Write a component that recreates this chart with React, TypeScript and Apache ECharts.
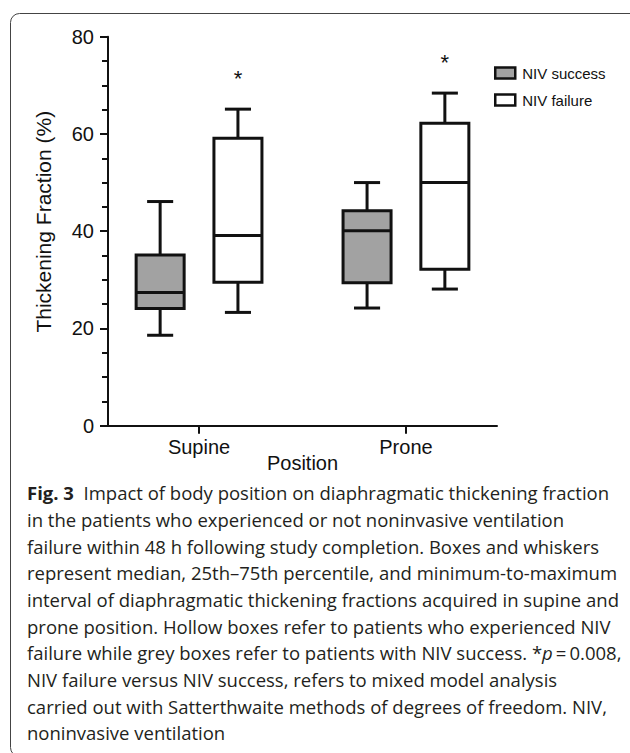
import React, { useEffect, useRef } from "react";
import * as echarts from "echarts";

// ---------- data ----------
const categories = ["Supine", "Prone"];
const seriesNames = ["NIV success", "NIV failure"];
// [min, Q1, median, Q3, max]
const successStats = [
  [18.6, 24.1, 27.4, 35.1, 46.1],
  [24.2, 29.4, 40.1, 44.2, 50.0],
];
const failureStats = [
  [23.3, 29.5, 39.1, 59.1, 65.1],
  [28.1, 32.2, 50.0, 62.2, 68.4],
];
const failureMarks = ["*", "*"];
const yTicks = [0, 20, 40, 60, 80];

const captionLines = [
  "{b|Fig. 3}  Impact of body position on diaphragmatic thickening fraction",
  "in the patients who experienced or not noninvasive ventilation",
  "failure within 48 h following study completion. Boxes and whiskers",
  "represent median, 25th\u201375th percentile, and minimum-to-maximum",
  "interval of diaphragmatic thickening fractions acquired in supine and",
  "prone position. Hollow boxes refer to patients who experienced NIV",
  "failure while grey boxes refer to patients with NIV success. *{i|p}\u2009=\u20090.008,",
  "NIV failure versus NIV success, refers to mixed model analysis",
  "carried out with Satterthwaite methods of degrees of freedom. NIV,",
  "noninvasive ventilation",
];

// ---------- style ----------
const FONT = "'Liberation Sans', Arial, Helvetica, sans-serif";
const CAP_FONT = "'Open Sans', 'Noto Sans', sans-serif";
const CAP_SIZE = 18.5;
const GREY = "#a2a2a2";
const INK = "#111";
const BOX_OFFSET = 0.188; // in category units
const BOX_W = 0.232;
const CAP_W = 0.126;

function makeRender(offset: number, fill: string, marks: string[] | null) {
  return (params: any, api: any) => {
    const xi = api.value(0);
    const mn = api.value(1), q1 = api.value(2), md = api.value(3), q3 = api.value(4), mx = api.value(5);
    const unit = api.size([1, 0])[0];
    const cx = api.coord([xi, 0])[0] + offset * unit;
    const Y = (v: number) => api.coord([xi, v])[1];
    const half = (BOX_W * unit) / 2;
    const cap = (CAP_W * unit) / 2;
    const ls = { stroke: INK, lineWidth: 3 };
    const children: any[] = [
      { type: "line", shape: { x1: cx, y1: Y(mx), x2: cx, y2: Y(q3) }, style: ls },
      { type: "line", shape: { x1: cx, y1: Y(q1), x2: cx, y2: Y(mn) }, style: ls },
      { type: "line", shape: { x1: cx - cap, y1: Y(mx), x2: cx + cap, y2: Y(mx) }, style: ls },
      { type: "line", shape: { x1: cx - cap, y1: Y(mn), x2: cx + cap, y2: Y(mn) }, style: ls },
      {
        type: "rect",
        shape: { x: cx - half, y: Y(q3), width: half * 2, height: Y(q1) - Y(q3) },
        style: { fill, stroke: INK, lineWidth: 3 },
      },
      { type: "line", shape: { x1: cx - half, y1: Y(md), x2: cx + half, y2: Y(md) }, style: ls },
    ];
    if (marks && marks[params.dataIndex]) {
      children.push({
        type: "text",
        x: cx,
        y: Y(mx) - 31,
        style: {
          text: marks[params.dataIndex],
          fontSize: 22,
          fontFamily: FONT,
          fill: INK,
          align: "center",
          verticalAlign: "middle",
        },
      });
    }
    return { type: "group", children };
  };
}

export default function App() {
  const ref = useRef<HTMLDivElement>(null);
  useEffect(() => {
    if (!ref.current) return;
    const chart = echarts.init(ref.current, null, { renderer: "svg" });
    const toData = (stats: number[][]) => stats.map((s, i) => [i, ...s]);
    const option: any = {
      animation: false,
      backgroundColor: "#fff",
      grid: { left: 108, right: 133, top: 36.7, bottom: 327.3, containLabel: false },
      xAxis: {
        type: "value",
        min: -0.44,
        max: 1.44,
        name: "Position",
        nameLocation: "middle",
        nameGap: 27,
        nameMoveOverlap: false,
        nameTextStyle: { fontSize: 20, fontFamily: FONT, color: INK },
        axisLine: { show: true, onZero: false, lineStyle: { color: INK, width: 2 } },
        axisTick: { show: true, length: 8, customValues: [0, 1], lineStyle: { color: INK, width: 2 } },
        axisLabel: {
          show: true,
          customValues: [0, 1],
          formatter: (v: number) => categories[Math.round(v)] ?? "",
          fontSize: 20,
          fontFamily: FONT,
          color: INK,
          margin: 11,
        },
        splitLine: { show: false },
      },
      yAxis: {
        type: "value",
        min: 0,
        max: 80,
        interval: 20,
        name: "Thickening Fraction (%)",
        nameLocation: "middle",
        nameGap: 54,
        nameTextStyle: { fontSize: 21, fontFamily: FONT, color: INK, padding: [0, 0, 0, 19] },
        axisLine: { show: true, onZero: false, lineStyle: { color: INK, width: 2 } },
        axisTick: { show: true, length: 8, lineStyle: { color: INK, width: 2 } },
        minorTick: { show: true, splitNumber: 4, length: 6, lineStyle: { color: INK, width: 2 } },
        axisLabel: {
          fontSize: 20,
          fontFamily: FONT,
          color: INK,
          margin: 14,
          formatter: (v: number) => (yTicks.includes(v) ? String(v) : ""),
        },
        splitLine: { show: false },
      },
      legend: {
        orient: "vertical",
        left: 489,
        top: 60.5,
        itemWidth: 20,
        itemHeight: 11,
        itemGap: 12,
        textStyle: { fontSize: 15, fontFamily: FONT, color: INK, padding: [0, 0, 0, 2] },
        data: [
          { name: seriesNames[0], icon: "rect", itemStyle: { color: GREY, borderColor: INK, borderWidth: 2.5 } },
          { name: seriesNames[1], icon: "rect", itemStyle: { color: "#fff", borderColor: INK, borderWidth: 2.5 } },
        ],
      },
      series: [
        {
          name: seriesNames[0],
          type: "custom",
          renderItem: makeRender(-BOX_OFFSET, GREY, null),
          encode: { x: 0, y: [1, 2, 3, 4, 5] },
          itemStyle: { color: GREY, borderColor: INK, borderWidth: 2.5 },
          data: toData(successStats),
        },
        {
          name: seriesNames[1],
          type: "custom",
          renderItem: makeRender(BOX_OFFSET, "#fff", failureMarks),
          encode: { x: 0, y: [1, 2, 3, 4, 5] },
          itemStyle: { color: "#fff", borderColor: INK, borderWidth: 2.5 },
          data: toData(failureStats),
        },
      ],
      graphic: [
        {
          type: "rect",
          shape: { x: 10.5, y: 13.5, width: 700, height: 743, r: 9 },
          style: { fill: "none", stroke: "#444", lineWidth: 1 },
          silent: true,
        },
        ...captionLines.map((t, i) => ({
          type: "text",
          x: 27,
          y: 492.7 + i * 26.67,
          style: {
            text: t,
            fontSize: CAP_SIZE,
            fontFamily: CAP_FONT,
            fill: "#231f20",
            verticalAlign: "middle",
            rich: {
              b: { fontSize: CAP_SIZE, fontFamily: CAP_FONT, fontWeight: "bold", fill: "#231f20" },
              i: { fontSize: CAP_SIZE, fontFamily: CAP_FONT, fontStyle: "italic", fill: "#231f20" },
            },
          },
        })),
      ],
    };
    chart.setOption(option);
    return () => chart.dispose();
  }, []);
  return (
    <div
      ref={ref}
      style={{ position: "absolute", left: 0, top: 0, width: 630, height: 753, background: "#fff" }}
    />
  );
}
